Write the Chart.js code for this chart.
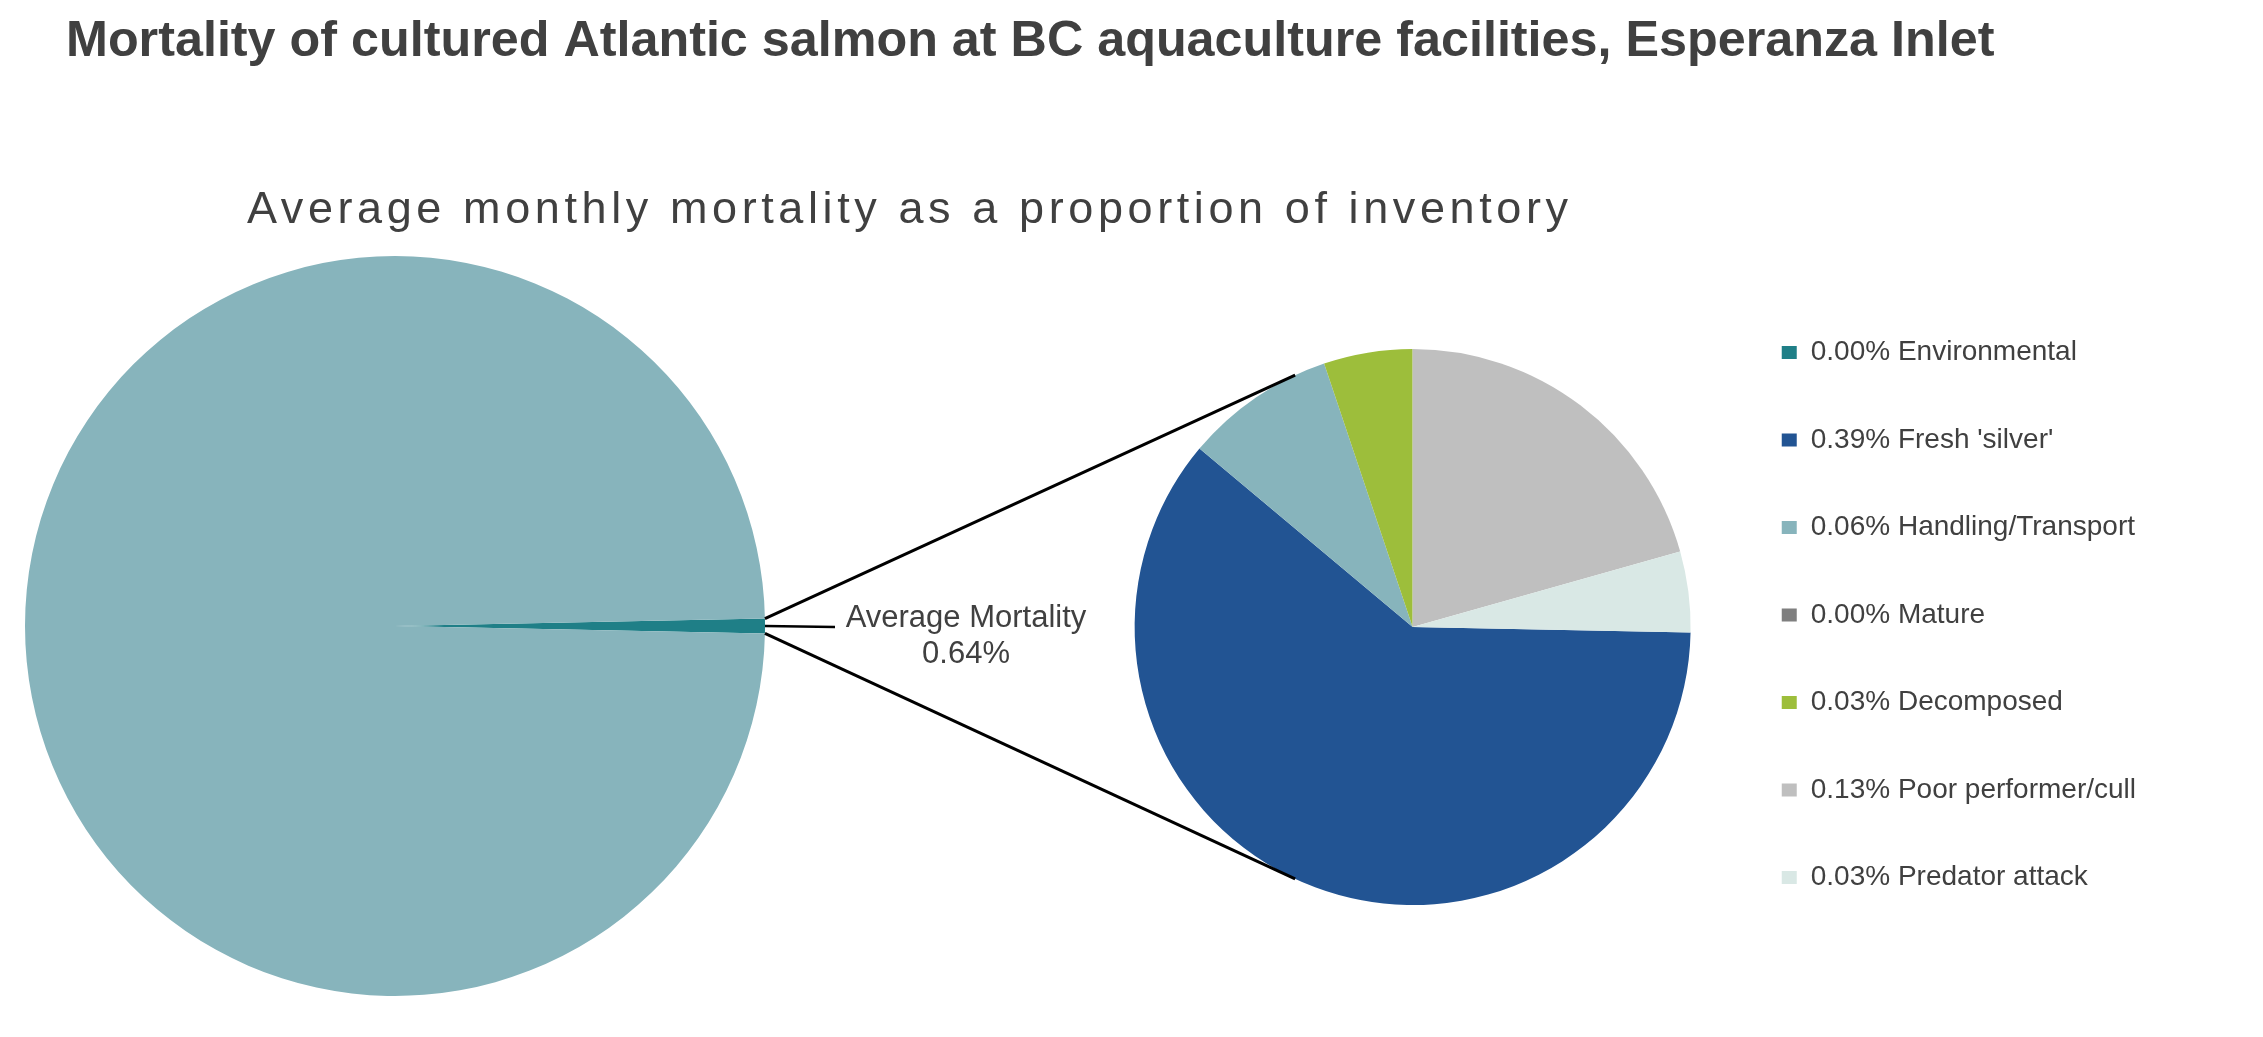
<!DOCTYPE html>
<html>
<head>
<meta charset="utf-8">
<title>Esperanza Inlet mortality</title>
<script src="https://cdn.jsdelivr.net/npm/chart.js@4.4.1/dist/chart.umd.min.js"></script>
<style>
  html, body { margin: 0; padding: 0; background: #fff; }
  #wrap { position: relative; width: 2263px; height: 1037px; }
  #wrap canvas { position: absolute; left: 0; top: 0; }
</style>
</head>
<body>
<div id="wrap">
  <canvas id="mainPie" width="2263" height="1037"></canvas>
  <canvas id="detailPie" width="2263" height="1037"></canvas>
</div>
<script>
const FONT = "'Liberation Sans', Arial, sans-serif";
const TEXT_COLOR = '#404040';

const chartTitle = 'Mortality of cultured Atlantic salmon at BC aquaculture facilities, Esperanza Inlet';
const chartSubtitle = 'Average monthly mortality as a proportion of inventory';

// main pie: average mortality vs. the rest of the inventory (% of inventory)
const mainLabels = ['Average Mortality', 'Remaining inventory'];
const mainValues = [0.64, 99.36];
const mainColors = ['#1F7F87', '#87B4BC'];

// breakdown of the mortality by cause (% of inventory)
const causes = [
  'Environmental',
  "Fresh 'silver'",
  'Handling/Transport',
  'Mature',
  'Decomposed',
  'Poor performer/cull',
  'Predator attack',
];
const causeMortality = [0.0, 0.389, 0.056, 0.0, 0.033, 0.132, 0.03];
const causeColors = ['#1F7F87', '#225493', '#87B4BC', '#7F7F7F', '#9DBE3B', '#BFBFBF', '#D9E8E5'];

// the cause that starts at 12 o'clock in the breakdown pie
const TOP_CAUSE = 'Poor performer/cull';
// where the connector lines meet the breakdown pie (degrees from 3 o'clock)
const CONNECT_ANGLE = 115;

const mainChart = new Chart(document.getElementById('mainPie'), {
  type: 'pie',
  data: {
    labels: mainLabels,
    datasets: [
      {
        data: mainValues,
        backgroundColor: mainColors,
        borderWidth: 0,
        radius: 370,
      },
    ],
  },
  options: {
    responsive: false,
    animation: false,
    devicePixelRatio: 1,
    events: [],
    /* centre the mortality wedge on 3 o'clock */
    rotation: 90 - (mainValues[0] / (mainValues[0] + mainValues[1])) * 180,
    layout: { padding: { left: 0, right: 1473, top: 215, bottom: 0 } },
    plugins: {
      legend: { display: false },
      tooltip: { enabled: false },
    },
  },
});

const totalMortality = causeMortality.reduce((a, b) => a + b, 0);
const beforeTop = causeMortality
  .slice(0, causes.indexOf(TOP_CAUSE))
  .reduce((a, b) => a + b, 0);

/**
 * Draws the titles, the two connector lines between the pies and the
 * "Average Mortality" callout
 */
const calloutPlugin = {
  id: 'callout',
  afterDraw(chart) {
    const { ctx } = chart;
    const wedge = mainChart.getDatasetMeta(0).data[0];
    const detail = chart.getDatasetMeta(0).data[0];

    ctx.save();

    ctx.fillStyle = TEXT_COLOR;
    ctx.textAlign = 'left';
    ctx.textBaseline = 'alphabetic';
    ctx.font = `bold 50.3px ${FONT}`;
    ctx.fillText(chartTitle, 66, 56);

    ctx.font = `45px ${FONT}`;
    ctx.letterSpacing = '4.6px';
    ctx.fillText(chartSubtitle, 247, 223);
    ctx.letterSpacing = '0px';

    // connector lines from the wedge corners to the breakdown pie
    ctx.strokeStyle = '#000';
    ctx.lineWidth = 3;
    const ends = [
      [wedge.startAngle, -CONNECT_ANGLE],
      [wedge.endAngle, CONNECT_ANGLE],
    ];
    ends.forEach(([from, to]) => {
      const rad = (to * Math.PI) / 180;
      ctx.beginPath();
      ctx.moveTo(
        wedge.x + wedge.outerRadius * Math.cos(from),
        wedge.y + wedge.outerRadius * Math.sin(from)
      );
      ctx.lineTo(
        detail.x + detail.outerRadius * Math.cos(rad),
        detail.y + detail.outerRadius * Math.sin(rad)
      );
      ctx.stroke();
    });

    // callout leader + label
    const mid = (wedge.startAngle + wedge.endAngle) / 2;
    const lx = wedge.x + wedge.outerRadius * Math.cos(mid);
    const ly = wedge.y + wedge.outerRadius * Math.sin(mid);
    ctx.lineWidth = 2.5;
    ctx.beginPath();
    ctx.moveTo(lx, ly);
    ctx.lineTo(lx + 70, ly + 1);
    ctx.stroke();

    ctx.font = `31px ${FONT}`;
    ctx.textAlign = 'center';
    ctx.fillText(mainLabels[0], 966, ly + 1);
    ctx.fillText(`${mainValues[0].toFixed(2)}%`, 966, ly + 37);

    ctx.restore();
  },
};

new Chart(document.getElementById('detailPie'), {
  type: 'pie',
  data: {
    labels: causes.map((c, i) => `${causeMortality[i].toFixed(2)}% ${c}`),
    datasets: [
      {
        data: causeMortality,
        backgroundColor: causeColors,
        borderWidth: 0,
        radius: 278,
      },
    ],
  },
  options: {
    responsive: false,
    animation: false,
    devicePixelRatio: 1,
    events: [],
    rotation: -(beforeTop / totalMortality) * 360,
    layout: { padding: { left: 1103, right: 117, top: 279, bottom: 62 } },
    plugins: {
      tooltip: { enabled: false },
      legend: {
        position: 'right',
        align: 'start',
        labels: {
          boxWidth: 15,
          boxHeight: 13,
          padding: 59.5,
          color: TEXT_COLOR,
          font: { size: 28, family: FONT },
        },
      },
    },
  },
  plugins: [calloutPlugin],
});
</script>
</body>
</html>
